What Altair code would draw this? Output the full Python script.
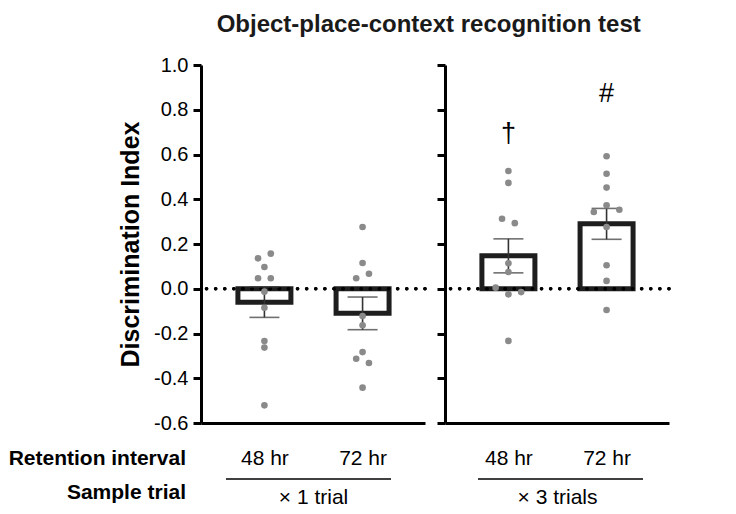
import altair as alt
import pandas as pd

# ---- data ----
trial_labels = ["\u00d7 1 trial", "\u00d7 3 trials"]
interval_labels = ["48 hr", "72 hr"]

g1_vals = [0.157, 0.136, 0.097, 0.047, 0.047, -0.013, -0.085, -0.234, -0.263, -0.521]
g1_jit = [1, -1, 0, -1, 1, 0, 0, 0, 0, 0]
g2_vals = [0.276, 0.115, 0.067, 0.047, -0.122, -0.163, -0.283, -0.313, -0.332, -0.442]
g2_jit = [0, 0, 1, -1, 0, 0, 0, -1, 1, 0]
g3_vals = [0.526, 0.473, 0.313, 0.293, 0.114, 0.075, 0.005, -0.015, -0.025, -0.233]
g3_jit = [0, 0, -1, 1, 0, 0, -2, 2, 0, 0]
g4_vals = [0.592, 0.514, 0.452, 0.373, 0.353, 0.343, 0.276, 0.105, 0.035, -0.095]
g4_jit = [0, 0, 0, 0, 2, -2, 0, 0, 0, 0]

means = [-0.06, -0.11, 0.147, 0.29]
sems = [0.068, 0.073, 0.076, 0.069]

marks_text = ["", "", "\u2020", "#"]
marks_y = [None, None, 0.69, 0.87]

y_ticks = [-0.6, -0.4, -0.2, 0.0, 0.2, 0.4, 0.6, 0.8, 1.0]

# ---- tables ----
pts_rows = []
for gi, (vals, jits) in enumerate([(g1_vals, g1_jit), (g2_vals, g2_jit),
                                   (g3_vals, g3_jit), (g4_vals, g4_jit)]):
    for v, j in zip(vals, jits):
        pts_rows.append({"trial": gi // 2, "pos": gi % 2 + 1, "value": v, "jit": j})
pts = pd.DataFrame(pts_rows)

summ = pd.DataFrame({
    "trial": [0, 0, 1, 1],
    "pos": [1, 2, 1, 2],
    "mean": means,
    "sem": sems,
})

ann = pd.DataFrame({
    "trial": [0, 0, 1, 1],
    "pos": [1, 2, 1, 2],
    "label": marks_text,
    "y": marks_y,
}).dropna()

FONT = "Liberation Sans"
W, H = 224, 358
xdom = [0.405, 2.585]


def panel(k):
    first = k == 0
    xs = alt.Scale(domain=xdom, nice=False, zero=False)
    ys = alt.Scale(domain=[-0.6, 1.0], nice=False, zero=False)
    xaxis = alt.Axis(
        values=[1, 2],
        labelExpr=f"datum.value == 1 ? '{interval_labels[0]}' : '{interval_labels[1]}'",
        ticks=False, grid=False, domainWidth=3, domainColor="black",
        labelFontSize=21, labelColor="black", labelFont=FONT, labelPadding=24,
        title=trial_labels[k], titleFontSize=21, titleFontWeight="normal",
        titleFont=FONT, titleColor="black", titlePadding=18,
    )
    if first:
        yaxis = alt.Axis(
            values=y_ticks,
            labelExpr="datum.value < -0.001 ? '-' + format(-datum.value, '.1f') : format(datum.value, '.1f')",
            grid=False, domainWidth=3, domainColor="black", tickWidth=3, tickSize=8,
            tickColor="black", labelFontSize=20, labelColor="black", labelFont=FONT,
            labelPadding=5, title="Discrimination Index", titleFontSize=25,
            titleFontWeight="bold", titleFont=FONT, titleColor="black", titlePadding=10,
        )
    else:
        yaxis = alt.Axis(
            values=y_ticks, labels=False, grid=False, domainWidth=3, domainColor="black",
            tickWidth=3, tickSize=8, tickColor="black", title=None,
        )

    sdata = summ[summ.trial == k]
    pdata = pts[pts.trial == k]

    bars = alt.Chart(sdata).mark_bar(
        size=53, fill="white", stroke="#1e1e1e", strokeWidth=5
    ).encode(
        x=alt.X("pos:Q", scale=xs, axis=xaxis),
        y=alt.Y("mean:Q", scale=ys, axis=yaxis),
        y2=alt.datum(0),
    )

    zero = alt.Chart(sdata).mark_rule(
        color="black", strokeWidth=3.5, strokeDash=[0.1, 9], strokeCap="round"
    ).encode(y=alt.datum(0, scale=ys))

    errs = alt.Chart(sdata).transform_calculate(
        lo="datum.mean - datum.sem", hi="datum.mean + datum.sem"
    )
    err_line = errs.mark_rule(color="#333333", strokeWidth=1.6).encode(
        x=alt.X("pos:Q", scale=xs), y=alt.Y("lo:Q", scale=ys), y2="hi:Q"
    )
    cap_lo = errs.mark_tick(orient="horizontal", size=30, thickness=1.6, color="#333333").encode(
        x=alt.X("pos:Q", scale=xs), y=alt.Y("lo:Q", scale=ys)
    )
    cap_hi = errs.mark_tick(orient="horizontal", size=30, thickness=1.6, color="#333333").encode(
        x=alt.X("pos:Q", scale=xs), y=alt.Y("hi:Q", scale=ys)
    )

    dots = alt.Chart(pdata).transform_calculate(
        px="datum.pos + datum.jit * 0.065"
    ).mark_circle(size=44, color="#8a8a8a", opacity=1).encode(
        x=alt.X("px:Q", scale=xs), y=alt.Y("value:Q", scale=ys)
    )

    sep_x = (25, 190) if first else (33, 198)
    sep = alt.Chart(pd.DataFrame({"k": [0]})).mark_rule(
        color="black", strokeWidth=1.5
    ).encode(x=alt.value(sep_x[0]), x2=alt.value(sep_x[1]), y=alt.value(414))

    layers = [bars, zero, err_line, cap_lo, cap_hi, dots, sep]

    adata = ann[ann.trial == k]
    if len(adata):
        txt = alt.Chart(adata).mark_text(
            fontSize=27, font=FONT, color="black", baseline="middle", align="center"
        ).encode(x=alt.X("pos:Q", scale=xs), y=alt.Y("y:Q", scale=ys), text="label:N")
        layers.append(txt)

    if first:
        side = alt.Chart(pd.DataFrame({"t": ["Retention interval", "Sample trial"],
                                       "row": [0, 1]}))
        t1 = side.transform_filter("datum.row == 0").mark_text(
            fontSize=21, fontWeight="bold", font=FONT, color="black",
            align="right", baseline="middle"
        ).encode(x=alt.value(-15), y=alt.value(394), text="t:N")
        t2 = side.transform_filter("datum.row == 1").mark_text(
            fontSize=21, fontWeight="bold", font=FONT, color="black",
            align="right", baseline="middle"
        ).encode(x=alt.value(-15), y=alt.value(428), text="t:N")
        layers += [t1, t2]

    return alt.layer(*layers).properties(width=W, height=H)


chart = alt.hconcat(panel(0), panel(1), spacing=8).properties(
    title=alt.TitleParams(
        "Object-place-context recognition test", fontSize=24, fontWeight="bold",
        font=FONT, color="#1a1a1a", anchor="middle", offset=18, dx=89,
    ),
    padding={"left": 0, "top": 5, "right": 5, "bottom": 5},
).configure_view(stroke=None)

chart.save("out.html", embed_options={"renderer": "svg", "actions": False})
